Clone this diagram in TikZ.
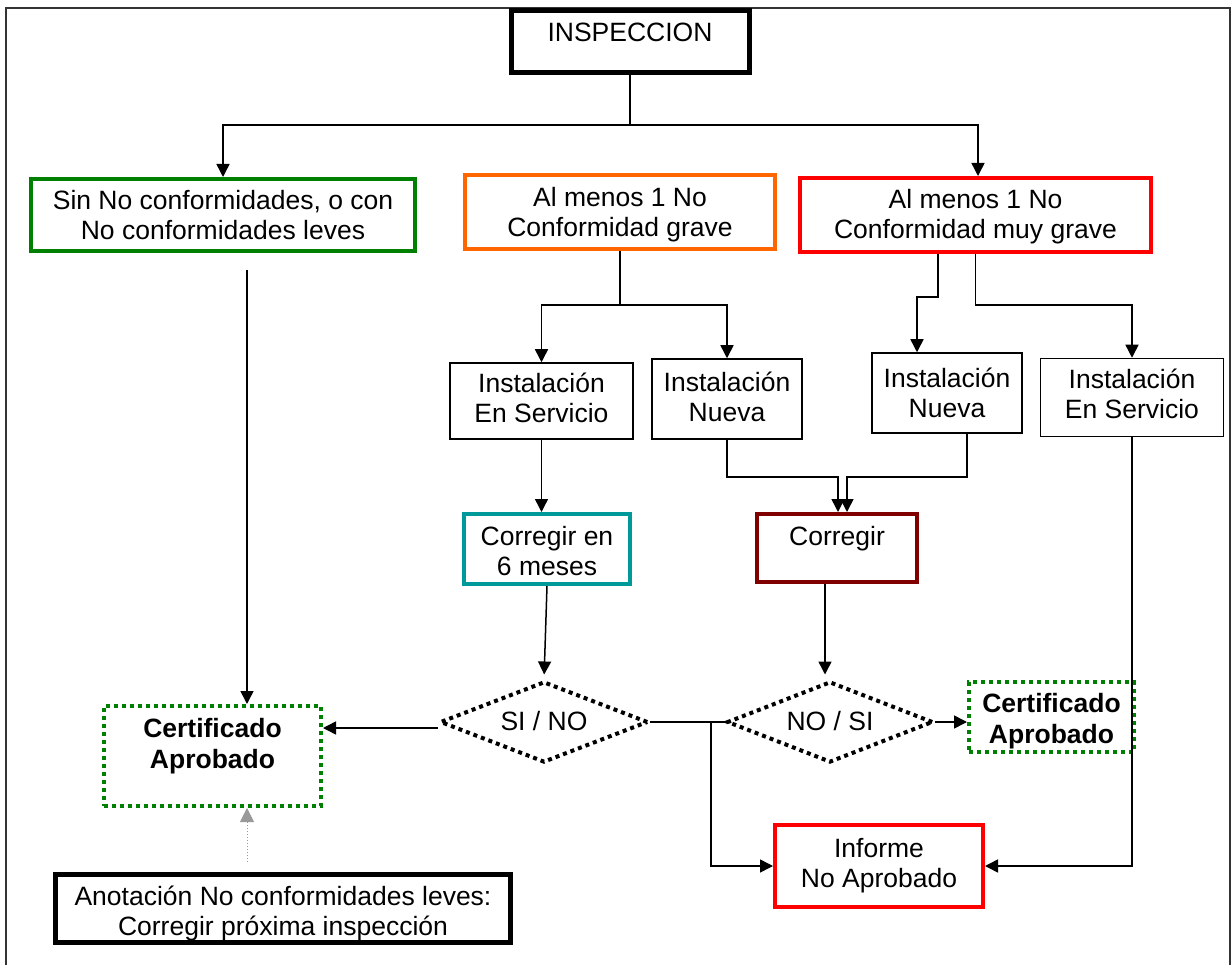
\documentclass[tikz,border=0pt]{standalone}
\usepackage{fontspec}
\setmainfont{Liberation Sans}
\usetikzlibrary{arrows.meta,calc,shapes.geometric}
\definecolor{cgreen}{HTML}{008000}
\definecolor{corange}{HTML}{FF6600}
\definecolor{cred}{HTML}{FF0000}
\definecolor{cteal}{HTML}{009999}
\definecolor{cmaroon}{HTML}{800000}
\definecolor{cframe}{HTML}{333333}
\definecolor{cgrayarr}{HTML}{999999}
\begin{document}
\begin{tikzpicture}[x=1pt,y=-1pt,
  every node/.style={font=\fontsize{26.5}{30}\selectfont, align=center, inner sep=0pt},
  tb/.style={text height=19pt, text depth=#1},
  tl/.style={text height=#1, text depth=6pt},
  plainbox/.style={draw, line width=1.5pt, rectangle},
  cbox/.style={draw=#1, line width=4pt, rectangle},
  dbox/.style={draw=cgreen, line width=4pt, dash pattern=on 4pt off 4pt, rectangle,
               font=\fontsize{26.5}{31}\selectfont\bfseries},
  dia/.style={diamond, draw, line width=4pt, dash pattern=on 4pt off 4pt,
              aspect=2.57, minimum width=208pt, minimum height=81pt},
  ln/.style={line width=1.5pt},
  arr/.style={line width=1.5pt, -{Triangle[length=13pt,width=13pt]}},
  grayarr/.style={draw=cgrayarr, line width=1pt, dotted,
                  -{Triangle[length=14pt,width=14pt,fill=cgrayarr]}}
]
\useasboundingbox (0,0) rectangle (1232,965);
% frame
\draw[line width=1.5pt, cframe] (6,965) -- (6,8) -- (1230,8) -- (1230,965);

% nodes
\node[plainbox, line width=5pt, minimum width=238pt, minimum height=62pt, tb=19pt] (insp) at (630,41.7) {INSPECCION};
\node[cbox=cgreen, minimum width=384pt, minimum height=72pt, tl=56pt] (sin) at (223,215) {Sin No conformidades, o con\\No conformidades leves};
\node[cbox=corange, minimum width=310pt, minimum height=74pt, tl=56pt] (grave) at (620,212) {Al menos 1 No\\Conformidad grave};
\node[cbox=cred, minimum width=351pt, minimum height=74pt, tl=54pt] (mgrave) at (975.5,215) {Al menos 1 No\\Conformidad muy grave};
\node[plainbox, minimum width=183pt, minimum height=76pt, tl=50pt] (ies1) at (541.5,401) {Instalación\\En Servicio};
\node[plainbox, minimum width=150pt, minimum height=80pt, tl=52pt] (inu1) at (727,399) {Instalación\\Nueva};
\node[plainbox, minimum width=150pt, minimum height=80pt, tl=56pt] (inu2) at (947,393) {Instalación\\Nueva};
\node[plainbox, minimum width=183pt, minimum height=78pt, tl=49pt] (ies2) at (1132,397.5) {Instalación\\En Servicio};
\node[cbox=cteal, minimum width=166pt, minimum height=70pt, tl=58pt] (c6) at (547,549) {Corregir en\\6 meses};
\node[cbox=cmaroon, minimum width=160pt, minimum height=68pt, tb=25pt] (corr) at (837,548) {Corregir};
\node[dia, tb=3pt] (d1) at (544,722) {SI / NO};
\node[dia, minimum width=206pt, tb=3pt] (d2) at (830,722) {NO / SI};
\node[dbox, minimum width=217pt, minimum height=100pt, tl=30pt] (cert1) at (212.5,756) {Certificado\\Aprobado};
\node[dbox, minimum width=165pt, minimum height=70pt, tl=58pt] (cert2) at (1051.5,717) {Certificado\\Aprobado};
\node[cbox=cred, minimum width=208pt, minimum height=82pt, tl=48pt] (informe) at (879,866) {Informe\\No Aprobado};
\node[plainbox, line width=5pt, minimum width=455pt, minimum height=68pt, tl=59pt] (annot) at (283,908.5) {Anotación No conformidades leves:\\Corregir próxima inspección};

% connectors
\coordinate (hb) at (630,125);
\draw[ln] (insp.south) -- (hb);
\draw[arr] (hb) -| (sin.north);
\draw[arr] (hb) -| ([xshift=2.5pt]mgrave.north);

\coordinate (gb) at ($(grave.south)+(0,54)$);
\draw[ln] (grave.south) -- (gb);
\draw[arr] (gb) -| (ies1.north);
\draw[arr] (gb) -| (inu1.north);

\draw[arr] ([xshift=-37.5pt]mgrave.south) -- ++(0,43) -| ([xshift=-30pt]inu2.north);
\draw[arr] (mgrave.south) -- ++(0,51) -| (ies2.north);

\draw[arr] (inu1.south) -- ++(0,37) -| ([xshift=1pt]corr.north);
\draw[arr] ([xshift=20pt]inu2.south) -- ++(0,43) -| ([xshift=10pt]corr.north);

\draw[arr] (ies1.south) -- (ies1.south |- c6.north);
\draw[arr, shorten >=5pt] (c6.south) -- (d1.north);
\coordinate (cs) at ([xshift=-12pt]corr.south);
\draw[arr, shorten >=5pt] (cs) -- (cs |- d2.north);

\coordinate (dw) at ([yshift=-6pt]d1.west);
\draw[arr] (dw) -- (dw -| cert1.east);
\draw[ln] (d1.east) -- (d2.west);
\coordinate (jx) at ($(d1.east)!0.81!(d2.west)$);
\draw[arr] (jx) |- (informe.west);
\draw[arr] (d2.east) -- (d2.east -| cert2.west);
\draw[arr] (ies2.south) |- (informe.east);

\coordinate (s1) at ($(sin.south)+(24,17)$);
\draw[arr] (s1) -- (s1 |- cert1.north);
\coordinate (a1) at ($(annot.north)+(-36,-10)$);
\draw[grayarr] (a1) -- (a1 |- cert1.south);
\end{tikzpicture}
\end{document}
